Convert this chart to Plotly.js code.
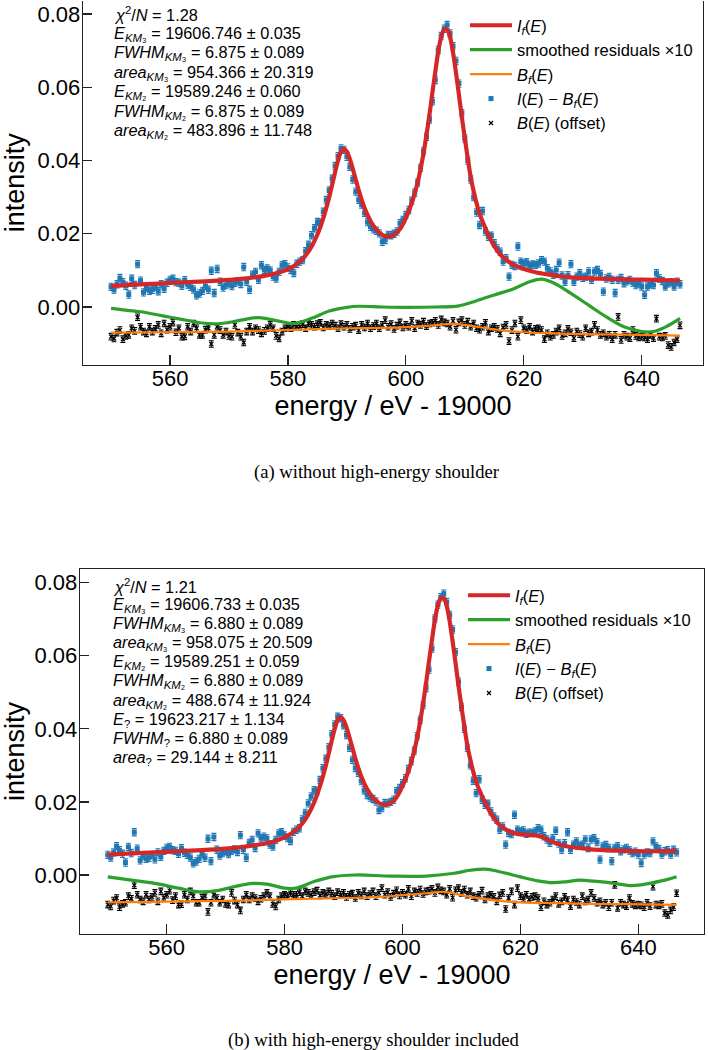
<!DOCTYPE html>
<html>
<head>
<meta charset="utf-8">
<script src="https://cdn.plot.ly/plotly-3.0.1.min.js"></script>
<style>html,body{margin:0;padding:0;background:#fff;}#chart{width:708px;height:1050px;}</style>
</head>
<body>
<div id="chart"></div>
<script>
// ---------------- data ----------------
const energy = [
550,550.5,551,551.5,552,552.5,553,553.5,554,554.5,
555,555.5,556,556.5,557,557.5,558,558.5,559,559.5,
560,560.5,561,561.5,562,562.5,563,563.5,564,564.5,
565,565.5,566,566.5,567,567.5,568,568.5,569,569.5,
570,570.5,571,571.5,572,572.5,573,573.5,574,574.5,
575,575.5,576,576.5,577,577.5,578,578.5,579,579.5,
580,580.5,581,581.5,582,582.5,583,583.5,584,584.5,
585,585.5,586,586.5,587,587.5,588,588.5,589,589.5,
590,590.5,591,591.5,592,592.5,593,593.5,594,594.5,
595,595.5,596,596.5,597,597.5,598,598.5,599,599.5,
600,600.5,601,601.5,602,602.5,603,603.5,604,604.5,
605,605.5,606,606.5,607,607.5,608,608.5,609,609.5,
610,610.5,611,611.5,612,612.5,613,613.5,614,614.5,
615,615.5,616,616.5,617,617.5,618,618.5,619,619.5,
620,620.5,621,621.5,622,622.5,623,623.5,624,624.5,
625,625.5,626,626.5,627,627.5,628,628.5,629,629.5,
630,630.5,631,631.5,632,632.5,633,633.5,634,634.5,
635,635.5,636,636.5,637,637.5,638,638.5,639,639.5,
640,640.5,641,641.5,642,642.5,643,643.5,644,644.5,
645,645.5,646,646.5];

// I(E) - B_f(E)
const signal = [
0.0055,0.0048,0.0062,0.0079,0.0068,0.0058,0.0034,0.0077,0.0060,0.0117,
0.0072,0.0040,0.0053,0.0044,0.0047,0.0055,0.0043,0.0062,0.0050,0.0066,
0.0074,0.0077,0.0068,0.0066,0.0058,0.0073,0.0061,0.0055,0.0048,0.0032,
0.0037,0.0044,0.0057,0.0047,0.0099,0.0038,0.0104,0.0069,0.0053,0.0060,
0.0065,0.0057,0.0066,0.0070,0.0063,0.0109,0.0069,0.0047,0.0088,0.0096,
0.0074,0.0114,0.0101,0.0105,0.0100,0.0083,0.0078,0.0096,0.0114,0.0117,
0.0108,0.0101,0.0093,0.0118,0.0124,0.0128,0.0152,0.0170,0.0196,0.0215,
0.0232,0.0230,0.0260,0.0292,0.0318,0.0350,0.0385,0.0412,0.0433,0.0429,
0.0410,0.0383,0.0348,0.0315,0.0293,0.0280,0.0257,0.0232,0.0219,0.0212,
0.0208,0.0201,0.0178,0.0183,0.0197,0.0196,0.0200,0.0206,0.0229,0.0238,
0.0251,0.0265,0.0290,0.0312,0.0340,0.0380,0.0425,0.0465,0.0512,0.0562,
0.0620,0.0702,0.0740,0.0760,0.0770,0.0747,0.0712,0.0672,0.0610,0.0529,
0.0460,0.0400,0.0348,0.0300,0.0258,0.0224,0.0262,0.0206,0.0192,0.0195,
0.0174,0.0160,0.0151,0.0124,0.0133,0.0083,0.0115,0.0112,0.0165,0.0124,
0.0119,0.0122,0.0113,0.0116,0.0115,0.0119,0.0128,0.0124,0.0106,0.0097,
0.0088,0.0101,0.0121,0.0086,0.0069,0.0087,0.0117,0.0069,0.0083,0.0092,
0.0080,0.0083,0.0097,0.0074,0.0097,0.0101,0.0090,0.0042,0.0078,0.0082,
0.0074,0.0038,0.0074,0.0079,0.0065,0.0070,0.0074,0.0067,0.0060,0.0064,
0.0056,0.0033,0.0056,0.0062,0.0060,0.0092,0.0078,0.0071,0.0056,0.0065,
0.0068,0.0056,0.0069,0.0062];

// B(E) (offset)
const background = [
-0.0081,-0.0086,-0.0070,-0.0063,-0.0088,-0.0079,-0.0076,-0.0058,-0.0065,-0.0028,
-0.0054,-0.0067,-0.0072,-0.0054,-0.0067,-0.0060,-0.0049,-0.0072,-0.0045,-0.0062,
-0.0054,-0.0043,-0.0069,-0.0058,-0.0081,-0.0080,-0.0054,-0.0067,-0.0045,-0.0058,
-0.0076,-0.0076,-0.0062,-0.0058,-0.0101,-0.0076,-0.0054,-0.0063,-0.0076,-0.0067,
-0.0079,-0.0081,-0.0049,-0.0070,-0.0081,-0.0097,-0.0067,-0.0054,-0.0067,-0.0058,
-0.0063,-0.0072,-0.0065,-0.0058,-0.0049,-0.0058,-0.0079,-0.0086,-0.0067,-0.0058,
-0.0054,-0.0058,-0.0049,-0.0054,-0.0054,-0.0047,-0.0058,-0.0045,-0.0049,-0.0054,
-0.0047,-0.0043,-0.0056,-0.0049,-0.0052,-0.0045,-0.0051,-0.0058,-0.0047,-0.0054,
-0.0049,-0.0060,-0.0054,-0.0051,-0.0063,-0.0049,-0.0056,-0.0045,-0.0058,-0.0052,
-0.0045,-0.0058,-0.0049,-0.0036,-0.0054,-0.0047,-0.0060,-0.0051,-0.0042,-0.0056,
-0.0049,-0.0054,-0.0038,-0.0058,-0.0045,-0.0049,-0.0040,-0.0052,-0.0045,-0.0043,
-0.0038,-0.0049,-0.0034,-0.0042,-0.0045,-0.0054,-0.0038,-0.0062,-0.0042,-0.0036,
-0.0049,-0.0040,-0.0054,-0.0045,-0.0058,-0.0062,-0.0054,-0.0043,-0.0067,-0.0058,
-0.0054,-0.0060,-0.0072,-0.0056,-0.0049,-0.0093,-0.0063,-0.0045,-0.0081,-0.0036,
-0.0058,-0.0063,-0.0054,-0.0067,-0.0060,-0.0058,-0.0063,-0.0088,-0.0072,-0.0081,
-0.0076,-0.0067,-0.0058,-0.0079,-0.0072,-0.0060,-0.0069,-0.0085,-0.0067,-0.0074,
-0.0081,-0.0058,-0.0072,-0.0067,-0.0049,-0.0063,-0.0076,-0.0072,-0.0081,-0.0076,
-0.0088,-0.0076,-0.0027,-0.0090,-0.0076,-0.0081,-0.0085,-0.0063,-0.0079,-0.0083,
-0.0081,-0.0083,-0.0088,-0.0076,-0.0085,-0.0032,-0.0081,-0.0083,-0.0079,-0.0104,
-0.0109,-0.0097,-0.0088,-0.0050];

const errSignal = 0.0010;
const errBackground = 0.0009;

// fitted curve I_f(E), panel (a)
const fitE_a = [550,554,558,562,566,570,573,576,578,580,581,582,583,584,585,586,587,587.5,588,588.5,589,589.5,590,590.5,591,591.5,592,592.5,593,594,595,596,597,598,599,600,601,602,602.5,603,603.5,604,604.5,605,605.5,606,606.5,607,607.5,608,608.5,609,609.5,610,610.5,611,611.5,612,612.5,613,614,615,616,617,618,619,620,622,624,626,628,630,634,638,642,646.5];
const fit_a = [0.0057,0.0061,0.0064,0.0067,0.0070,0.0074,0.0078,0.0085,0.0092,0.0103,0.0112,0.0124,0.0141,0.0165,0.0198,0.0243,0.0300,0.0334,0.0368,0.0400,0.0424,0.0432,0.0424,0.0404,0.0377,0.0348,0.0319,0.0293,0.0270,0.0235,0.0211,0.0197,0.0192,0.0197,0.0213,0.0243,0.0284,0.0340,0.0377,0.0420,0.0470,0.0525,0.0585,0.0643,0.0698,0.0738,0.0758,0.0758,0.0737,0.0695,0.0640,0.0580,0.0518,0.0461,0.0406,0.0355,0.0316,0.0283,0.0255,0.0234,0.0197,0.0166,0.0144,0.0129,0.0118,0.0110,0.0104,0.0095,0.0089,0.0084,0.0081,0.0079,0.0077,0.0075,0.0074,0.0072];

// fitted curve I_f(E), panel (b) (with shoulder)
const fitE_b = [550,554,558,562,566,570,573,576,578,580,581,582,583,584,585,586,587,587.5,588,588.5,589,589.5,590,590.5,591,591.5,592,592.5,593,594,595,596,597,598,599,600,601,602,602.5,603,603.5,604,604.5,605,605.5,606,606.5,607,607.5,608,608.5,609,609.5,610,610.5,611,611.5,612,612.5,613,614,615,616,617,618,619,620,621,622,623,624,625,626,627,628,630,632,634,638,642,646.5];
const fit_b = [0.0056,0.0059,0.0062,0.0065,0.0068,0.0072,0.0077,0.0084,0.0091,0.0103,0.0112,0.0124,0.0141,0.0165,0.0198,0.0243,0.0300,0.0334,0.0368,0.0400,0.0424,0.0432,0.0424,0.0404,0.0377,0.0348,0.0319,0.0293,0.0270,0.0235,0.0211,0.0197,0.0192,0.0197,0.0213,0.0243,0.0284,0.0340,0.0377,0.0420,0.0470,0.0525,0.0585,0.0643,0.0698,0.0738,0.0758,0.0758,0.0737,0.0695,0.0640,0.0580,0.0518,0.0461,0.0406,0.0355,0.0316,0.0283,0.0255,0.0234,0.0199,0.0168,0.0145,0.0130,0.0120,0.0114,0.0111,0.0110,0.0109,0.0107,0.0102,0.0094,0.0087,0.0082,0.0078,0.0074,0.0070,0.0068,0.0066,0.0065,0.0066];

// smoothed residuals x10
const resE_a = [550,552,555,558,560,563,565,568,570,572,575,578,581,584,587,590,592,596,600,605,609,612,615,618,621,623,625,628,631,634,637,640,642,644,646.5];
const res_a = [-0.0004,-0.0008,-0.0013,-0.0022,-0.0028,-0.0037,-0.0043,-0.0046,-0.0042,-0.0036,-0.0029,-0.0037,-0.0045,-0.0031,-0.0011,-0.0001,0.0002,0.0000,-0.0001,0.0000,0.0003,0.0017,0.0033,0.0048,0.0069,0.0076,0.0066,0.0037,0.0005,-0.0027,-0.0054,-0.0067,-0.0067,-0.0055,-0.0031];
const resE_b = [550,554,558,562,565.5,568.5,571.5,574.5,577,580,582,585,588,592,598,604,608.5,611.5,614,616.5,620,623,625.5,628,630,632.5,636,638.5,640.5,642.5,645,646.5];
const res_b = [-0.0005,-0.0014,-0.0023,-0.0036,-0.0046,-0.0043,-0.0032,-0.0023,-0.0025,-0.0036,-0.0036,-0.0018,-0.0005,0.0000,-0.0003,-0.0003,0.0004,0.0013,0.0016,0.0009,-0.0005,-0.0016,-0.0021,-0.0018,-0.0014,-0.0017,-0.0023,-0.0029,-0.0027,-0.0021,-0.0012,-0.0005];

// background fit B_f(E) (offset)
const bgE_a = [550,560,570,580,590,596,600,604,608,610,612,616,620,625,630,635,640,646.5];
const bg_a = [-0.0070,-0.0069,-0.0067,-0.0063,-0.0058,-0.0057,-0.0055,-0.0051,-0.0046,-0.0049,-0.0054,-0.0063,-0.0069,-0.0072,-0.0074,-0.0075,-0.0076,-0.0078];
const bgE_b = [550,560,570,580,590,596,600,604,607,610,613,616.5,620,626,632,638,646.5];
const bg_b = [-0.0075,-0.0073,-0.0071,-0.0067,-0.0063,-0.0060,-0.0055,-0.0050,-0.0046,-0.0055,-0.0064,-0.0071,-0.0075,-0.0077,-0.0079,-0.0080,-0.0082];

const statsA = [
"<i>χ</i><sup>2</sup>/<i>N</i> = 1.28",
"<i>E</i><sub><i>KM</i>₃</sub> = 19606.746 ± 0.035",
"<i>FWHM</i><sub><i>KM</i>₃</sub> = 6.875 ± 0.089",
"<i>area</i><sub><i>KM</i>₃</sub> = 954.366 ± 20.319",
"<i>E</i><sub><i>KM</i>₂</sub> = 19589.246 ± 0.060",
"<i>FWHM</i><sub><i>KM</i>₂</sub> = 6.875 ± 0.089",
"<i>area</i><sub><i>KM</i>₂</sub> = 483.896 ± 11.748"];
const statsB = [
"<i>χ</i><sup>2</sup>/<i>N</i> = 1.21",
"<i>E</i><sub><i>KM</i>₃</sub> = 19606.733 ± 0.035",
"<i>FWHM</i><sub><i>KM</i>₃</sub> = 6.880 ± 0.089",
"<i>area</i><sub><i>KM</i>₃</sub> = 958.075 ± 20.509",
"<i>E</i><sub><i>KM</i>₂</sub> = 19589.251 ± 0.059",
"<i>FWHM</i><sub><i>KM</i>₂</sub> = 6.880 ± 0.089",
"<i>area</i><sub><i>KM</i>₂</sub> = 488.674 ± 11.924",
"<i>E</i><sub>?</sub> = 19623.217 ± 1.134",
"<i>FWHM</i><sub>?</sub> = 6.880 ± 0.089",
"<i>area</i><sub>?</sub> = 29.144 ± 8.211"];

const captionA = "(a) without high-energy shoulder";
const captionB = "(b) with high-energy shoulder included";
const xTitle = "energy / eV - 19000";
const yTitle = "intensity";

// ---------------- layout helpers ----------------
const W = 708, H = 1050;
const M = {l: 80, r: 4, t: 0, b: 116};
const PW = W - M.l - M.r, PH = H - M.t - M.b;
const px = x => (x - M.l) / PW;
const py = y => (H - M.b - y) / PH;

const FONT = "Liberation Sans, Arial, sans-serif";
const blue = "#1f77b4", red = "#d62728", green = "#2ca02c", orange = "#ff7f0e";

function panelTraces(xa, ya, leg, fitE, fit, resE, res, bgE, bg) {
  return [
    {x: energy, y: signal, xaxis: xa, yaxis: ya, legend: leg, legendrank: 4,
     type: "scatter", mode: "markers", name: "<i>I</i>(<i>E</i>) − <i>B</i><sub><i>f</i></sub>(<i>E</i>)",
     marker: {symbol: "square", size: 5, color: blue},
     error_y: {type: "constant", value: errSignal, color: blue, thickness: 1.1, width: 2.5}},
    {x: energy, y: background, xaxis: xa, yaxis: ya, legend: leg, legendrank: 5,
     type: "scatter", mode: "markers", name: "<i>B</i>(<i>E</i>) (offset)",
     marker: {symbol: "x-thin", size: 4, color: "black", line: {width: 1.2, color: "black"}},
     error_y: {type: "constant", value: errBackground, color: "black", thickness: 1.1, width: 2.5}},
    {x: fitE, y: fit, xaxis: xa, yaxis: ya, legend: leg, legendrank: 1,
     type: "scatter", mode: "lines", name: "<i>I</i><sub><i>f</i></sub>(<i>E</i>)",
     line: {color: red, width: 4.2, shape: "spline", smoothing: 0.8}},
    {x: resE, y: res, xaxis: xa, yaxis: ya, legend: leg, legendrank: 2,
     type: "scatter", mode: "lines", name: "smoothed residuals ×10",
     line: {color: green, width: 3.2, shape: "spline", smoothing: 1}},
    {x: bgE, y: bg, xaxis: xa, yaxis: ya, legend: leg, legendrank: 3,
     type: "scatter", mode: "lines", name: "<i>B</i><sub><i>f</i></sub>(<i>E</i>)",
     line: {color: orange, width: 2.2, shape: "spline", smoothing: 1}}
  ];
}

const data = [].concat(
  panelTraces("x", "y", "legend", fitE_a, fit_a, resE_a, res_a, bgE_a, bg_a),
  panelTraces("x2", "y2", "legend2", fitE_b, fit_b, resE_b, res_b, bgE_b, bg_b)
);

function xaxis(domain, range, anchor) {
  return {domain: domain, range: range, anchor: anchor,
    tickmode: "linear", tick0: 560, dtick: 20, ticks: "inside", ticklen: 10, tickwidth: 1.2, tickcolor: "#222",
    ticklabelstandoff: -7,
    showline: true, linecolor: "#222", linewidth: 1.3, mirror: true, showgrid: false, zeroline: false,
    tickfont: {family: FONT, size: 22, color: "black"},
    title: {text: xTitle, font: {family: FONT, size: 27, color: "black"}, standoff: 5}};
}
function yaxis(domain, range, anchor) {
  return {domain: domain, range: range, anchor: anchor,
    tickvals: [0, 0.02, 0.04, 0.06, 0.08], tickformat: ".2f", ticks: "inside", ticklen: 9, tickwidth: 1.2, tickcolor: "#222",
    ticklabelstandoff: -3,
    showline: true, linecolor: "#222", linewidth: 1.3, mirror: true, showgrid: false, zeroline: false,
    tickfont: {family: FONT, size: 22, color: "black"},
    title: {text: yTitle, font: {family: FONT, size: 27, color: "black"}, standoff: 6}};
}

const annotations = [];
const ysA = [15, 34.5, 54, 73.5, 93, 112.5, 132];
statsA.forEach((t, i) => annotations.push({xref: "paper", yref: "paper", x: px(113), y: py(ysA[i] - 1),
  xanchor: "left", yanchor: "middle", showarrow: false, align: "left", borderpad: 0, text: t,
  font: {family: FONT, size: 16.3, color: "black"}}));
const ysB = [586.7, 605.5, 624.8, 643.9, 662.9, 682, 701.5, 720.6, 739.5, 758.6];
statsB.forEach((t, i) => annotations.push({xref: "paper", yref: "paper", x: px(112), y: py(ysB[i] - 1),
  xanchor: "left", yanchor: "middle", showarrow: false, align: "left", borderpad: 0, text: t,
  font: {family: FONT, size: 16.3, color: "black"}}));
annotations.push({xref: "paper", yref: "paper", x: px(377), y: py(472), xanchor: "center", yanchor: "middle",
  showarrow: false, text: captionA, font: {family: "Liberation Serif, Times New Roman, serif", size: 18.6, color: "black"}});
annotations.push({xref: "paper", yref: "paper", x: px(374), y: py(1040), xanchor: "center", yanchor: "middle",
  showarrow: false, text: captionB, font: {family: "Liberation Serif, Times New Roman, serif", size: 18.6, color: "black"}});

const legendStyle = (x, y) => ({x: px(x), y: py(y), xanchor: "left", yanchor: "top", bgcolor: "rgba(0,0,0,0)",
  borderwidth: 0, font: {family: FONT, size: 16.5, color: "black"}, itemwidth: 42, tracegroupgap: 0});

const layout = {
  width: W, height: H, margin: M, paper_bgcolor: "white", plot_bgcolor: "white", showlegend: true,
  xaxis: xaxis([px(83), px(703)], [545.24, 650.4], "y"),
  yaxis: yaxis([py(365), py(0.5)], [-0.01584, 0.0837], "x"),
  xaxis2: xaxis([px(80), px(704)], [545.29, 651.15], "y2"),
  yaxis2: yaxis([py(934), py(569)], [-0.01615, 0.08375], "x2"),
  legend: legendStyle(465, 8),
  legend2: legendStyle(463, 578),
  annotations: annotations
};

Plotly.newPlot("chart", data, layout, {displayModeBar: false, staticPlot: true});
</script>
</body>
</html>
